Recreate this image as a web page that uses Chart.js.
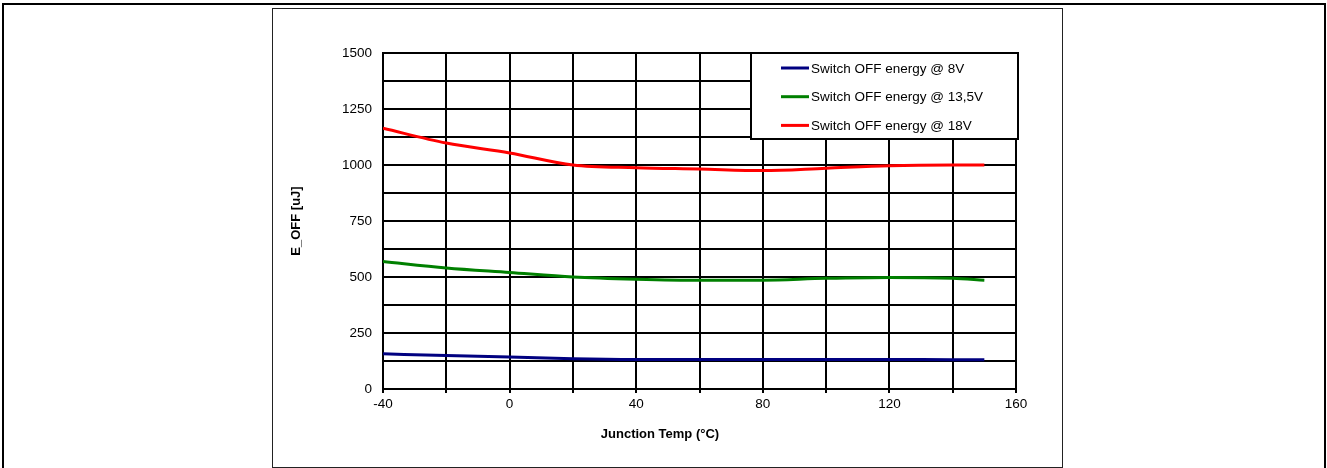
<!DOCTYPE html>
<html>
<head>
<meta charset="utf-8">
<script src="https://cdn.jsdelivr.net/npm/chart.js@4"></script>
<style>
  body { margin: 0; background: #fff; width: 1327px; height: 468px; overflow: hidden; position: relative; }
  #outer { position: absolute; left: 2px; top: 3px; width: 1320px; height: 480px; border: 2px solid #000; border-bottom: none; }
  #box { position: absolute; left: 272px; top: 8px; width: 789px; height: 458px; border: 1px solid #222; }
  #chart { position: absolute; left: 273px; top: 9px; }
</style>
</head>
<body>
<div id="outer"></div>
<div id="box"></div>
<canvas id="chart" width="789" height="458"></canvas>
<script>
// junction temperature (°C) and switch-off energy (uJ)
const temps = [-40, -20, 0, 20, 40, 60, 80, 100, 120, 140, 150];
const eoff8V = [157, 149, 143, 135, 132, 132, 132, 132, 132, 131, 131];
const eoff13V = [569, 540, 520, 500, 490, 485, 486, 494, 498, 494, 486];
const eoff18V = [1164, 1098, 1054, 1000, 988, 982, 975, 986, 997, 1000, 1000];

const seriesLabels = ["Switch OFF energy @ 8V", "Switch OFF energy @ 13,5V", "Switch OFF energy @ 18V"];
const seriesColors = ["#000080", "#008000", "#ff0000"];
const xTitle = "Junction Temp (°C)";
const yTitle = "E_OFF [uJ]";

Chart.defaults.font.family = "'Liberation Sans', Arial, sans-serif";
Chart.defaults.color = "#000";

const seriesData = [eoff8V, eoff13V, eoff18V];

const datasets = seriesData.map((arr, i) => ({
  label: seriesLabels[i],
  data: temps.map((t, j) => ({ x: t, y: arr[j] })),
  borderColor: seriesColors[i],
  backgroundColor: seriesColors[i],
  borderWidth: 3,
  pointRadius: 0,
  fill: false,
  cubicInterpolationMode: "monotone"
}));

// legend box drawn inside the plot, top right
const boxLegend = {
  id: "boxLegend",
  afterDatasetsDraw(chart) {
    const ctx = chart.ctx;
    const area = chart.chartArea;
    const x = area.left + 368, y = area.top, w = 267, h = 86;
    ctx.save();
    ctx.fillStyle = "#fff";
    ctx.fillRect(x, y, w, h);
    ctx.strokeStyle = "#000";
    ctx.lineWidth = 2;
    ctx.strokeRect(x, y, w, h);
    ctx.font = "13.5px 'Liberation Sans', Arial, sans-serif";
    ctx.textBaseline = "middle";
    ctx.fillStyle = "#000";
    seriesLabels.forEach((lab, i) => {
      const cy = y + 15 + i * 28.7;
      ctx.strokeStyle = seriesColors[i];
      ctx.lineWidth = 3;
      ctx.beginPath();
      ctx.moveTo(x + 30, cy);
      ctx.lineTo(x + 58, cy);
      ctx.stroke();
      ctx.fillText(lab, x + 60, cy + 1);
    });
    ctx.restore();
  }
};

// x axis title sits a bit left of the plot centre
const xAxisTitle = {
  id: "xAxisTitle",
  afterDraw(chart) {
    const ctx = chart.ctx;
    ctx.save();
    ctx.font = "bold 13px 'Liberation Sans', Arial, sans-serif";
    ctx.textAlign = "center";
    ctx.textBaseline = "middle";
    ctx.fillStyle = "#000";
    ctx.fillText(xTitle, 387, 425);
    ctx.restore();
  }
};

new Chart(document.getElementById("chart").getContext("2d"), {
  type: "line",
  data: { datasets: datasets },
  options: {
    responsive: false,
    animation: false,
    layout: { padding: { left: 0, top: 44, right: 46, bottom: 0 } },
    plugins: { legend: { display: false }, tooltip: { enabled: false } },
    scales: {
      x: {
        type: "linear",
        min: -40,
        max: 160,
        ticks: {
          stepSize: 20,
          autoSkip: false,
          maxRotation: 0,
          padding: 3,
          font: { size: 13.5 },
          callback: v => (v % 40 === 0 ? v : "")
        },
        grid: { color: "#000", lineWidth: 2, tickLength: 4, drawTicks: true },
        border: { color: "#000", width: 2 },
        afterFit: s => { s.height = 78; }
      },
      y: {
        min: 0,
        max: 1500,
        ticks: {
          stepSize: 125,
          autoSkip: false,
          padding: 11,
          font: { size: 13.5 },
          callback: v => (v % 250 === 0 ? v : "")
        },
        grid: { color: "#000", lineWidth: 2, drawTicks: false },
        border: { color: "#000", width: 2 },
        title: {
          display: true,
          text: yTitle,
          font: { size: 13, weight: "bold" },
          padding: { top: 16, bottom: 0 }
        },
        afterFit: s => { s.width = 110; }
      }
    }
  },
  plugins: [boxLegend, xAxisTitle]
});
</script>
</body>
</html>
